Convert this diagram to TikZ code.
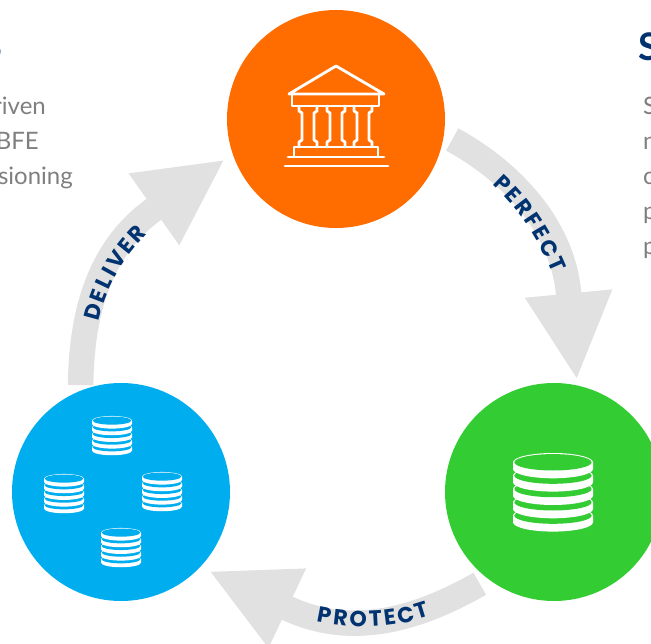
\documentclass[tikz,border=0pt]{standalone}
\usepackage{fontspec}
\setmainfont{Lato}
\newfontfamily\flowfont{Poppins}
\newcommand\gap{\kern2.5pt}
\usetikzlibrary{arrows.meta,decorations.text}
\definecolor{bankorange}{HTML}{FF6C00}
\definecolor{vaultgreen}{HTML}{33CC33}
\definecolor{poolblue}{HTML}{00ADEF}
\definecolor{flowgray}{HTML}{E1E1E1}
\definecolor{labelnavy}{HTML}{003370}
\definecolor{bodygray}{HTML}{7F7F7F}
\tikzset{
	hub/.style = {circle, fill = #1, minimum size = 218pt, inner sep = 0pt, outer sep = 9pt},
	flow/.style = {draw = flowgray, line width = 25.5pt, -{Triangle[length = 87pt, width = 81pt]}},
	flowlabel/.style = {decorate, decoration = {text along path, text align = {center}, text = {|\fontsize{22pt}{26pt}\flowfont\bfseries\color{labelnavy}|#1}}},
	bodytext/.style = {text = bodygray, font = \fontsize{24pt}{28pt}\selectfont, inner sep = 0pt},
	headtext/.style = {text = labelnavy, font = \fontsize{38pt}{44pt}\selectfont\bfseries, inner sep = 0pt},
	pics/coinstack/.style = {code = {
		\foreach \y in {53.3, 40, 26.7, 13.3, 0} {
			\fill[white] (-40,\y) -- (-40,\y+6.7) arc [start angle = 180, end angle = 0, x radius = 40, y radius = 9.3] -- (40,\y) arc [start angle = 0, end angle = -180, x radius = 40, y radius = 9.3] -- cycle;
			\fill[#1] (0,\y) ellipse [x radius = 38.6, y radius = 8.2];
		}
	}}
}
\begin{document}
\begin{tikzpicture}[x = 1pt, y = -1pt]
	\clip (0,0) rectangle (651,644);
	\node[hub = bankorange] (bank) at (336,119) {};
	\node[hub = vaultgreen] (vault) at (554,492) {};
	\node[hub = poolblue] (pool) at (121,492) {};

	\draw[flow, shorten > = -4pt] (bank.-10) .. controls (510,171) and (562,225) .. (568.5,292.5) -- (vault.79);
	\draw[flow] (vault.-129) .. controls (418,619) and (353,638) .. (289,609) -- (pool.-42);
	\draw[flow, shorten < = -4pt] (pool.110) .. controls (81.5,315) and (98,249) .. (154.5,209) -- (bank.-160);

	\path[flowlabel = {{P\gap}{E\gap}{R\gap}{F\gap}{E\gap}{C\gap}{T}}] (476,172) .. controls (510,195) and (540,235) .. (560,292);
	\path[flowlabel = {{P\gap}{R\gap}{O\gap}{T\gap}{E\gap}{C\gap}{T}}] (293,614) .. controls (343,632) and (403,632) .. (453,606);
	\path[flowlabel = {{D\gap}{E\gap}{L\gap}{I\gap}{V\gap}{E\gap}{R}}] (95,345) .. controls (101,290) and (125,252) .. (165,218);

	\begin{scope}[line width = 2.8pt, draw = white, line join = round, line cap = round]
		\draw (289,94) -- (336,66) -- (384,94) -- cycle;
		\draw (292,95) -- (292,106) -- (379,106) -- (379,95);
		\foreach \x in {308, 336, 363} {
			\draw (\x-9,106) -- (\x-9,111) -- (\x-6,113) -- (\x-6,140) -- (\x-9,142) -- (\x-9,147);
			\draw (\x+9,106) -- (\x+9,111) -- (\x+6,113) -- (\x+6,140) -- (\x+9,142) -- (\x+9,147);
		}
		\draw (294,157) -- (294,147) -- (378,147) -- (378,157);
		\draw (288,157) -- (384,157);
		\draw (285,166) -- (388,166);
	\end{scope}

	\pic at (553,462.3) {coinstack = vaultgreen};
	\pic[scale = .5] at (112,420.6) {coinstack = poolblue};
	\pic[scale = .5] at (64,478.6) {coinstack = poolblue};
	\pic[scale = .5] at (162,476.6) {coinstack = poolblue};
	\pic[scale = .5] at (121,532.6) {coinstack = poolblue};

	\node[headtext, anchor = base east] (headleft) at (3,61) {S};
	\node[bodytext, anchor = base east] (lineone) at (46,115) {riven};
	\node[bodytext, anchor = base east] (linetwo) at (39,150) {BFE};
	\node[bodytext, anchor = base east] (linethree) at (73,185) {sioning};
	\node[headtext, anchor = base west] (headright) at (638,61) {S};
	\foreach \t [count = \i] in {S, n, c, p, p}
		\node[bodytext, anchor = base west] (right\i) at (643,80+35*\i) {\t};
\end{tikzpicture}
\end{document}
